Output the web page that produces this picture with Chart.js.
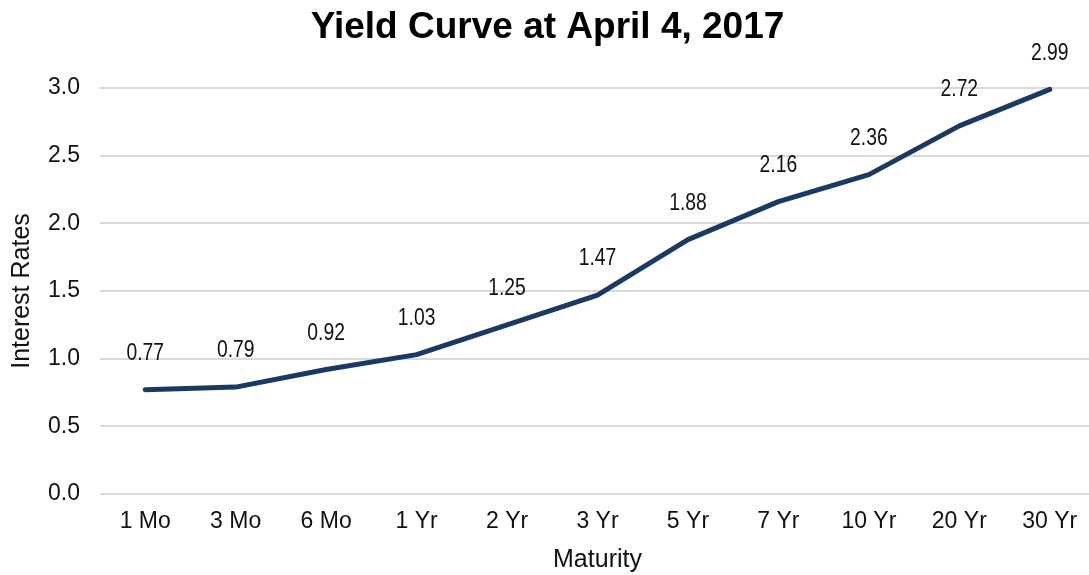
<!DOCTYPE html>
<html>
<head>
<meta charset="utf-8">
<script src="https://cdn.jsdelivr.net/npm/chart.js@4.4.1/dist/chart.umd.min.js"></script>
<style>
  html, body { margin: 0; padding: 0; background: #fff; overflow: hidden; }
  #wrap { width: 1096px; height: 575px; position: relative; }
</style>
</head>
<body>
<div id="wrap"><canvas id="c"></canvas></div>
<script>
const categories = ["1 Mo", "3 Mo", "6 Mo", "1 Yr", "2 Yr", "3 Yr", "5 Yr", "7 Yr", "10 Yr", "20 Yr", "30 Yr"];
const yields = [0.77, 0.79, 0.92, 1.03, 1.25, 1.47, 1.88, 2.16, 2.36, 2.72, 2.99];
const yTicks = [0.0, 0.5, 1.0, 1.5, 2.0, 2.5, 3.0];

const FONT = "'Liberation Sans', Arial, sans-serif";

const labelPlugin = {
  id: 'pointLabels',
  afterDatasetsDraw(chart) {
    const ctx = chart.ctx;
    const meta = chart.getDatasetMeta(0);
    meta.data.forEach((pt, i) => {
      ctx.save();
      ctx.translate(pt.x, pt.y - 36);
      ctx.scale(0.84, 1);
      ctx.font = "23px " + FONT;
      ctx.fillStyle = "#111";
      ctx.textAlign = "center";
      ctx.textBaseline = "middle";
      ctx.fillText(yields[i].toFixed(2), 0, 0);
      ctx.restore();
    });
  }
};

new Chart(document.getElementById('c'), {
  type: 'line',
  data: {
    labels: categories,
    datasets: [{
      data: yields,
      borderColor: '#1b3a62',
      borderWidth: 5,
      pointRadius: 0,
      tension: 0,
      fill: false,
      borderCapStyle: 'round',
      borderJoinStyle: 'round',
      clip: false
    }]
  },
  options: {
    responsive: true,
    maintainAspectRatio: false,
    animation: false,
    layout: { padding: { left: 0, right: 1, top: 0, bottom: 0 } },
    plugins: {
      legend: { display: false },
      tooltip: { enabled: false },
      title: {
        display: true,
        text: 'Yield Curve at April 4, 2017',
        color: '#000',
        font: { family: FONT, size: 37, weight: 'bold', lineHeight: 1.2 },
        padding: { top: 6, bottom: 37.6 }
      }
    },
    scales: {
      x: {
        offset: true,
        afterFit(scale) { scale.height = 81; scale.paddingLeft = 0; scale.paddingRight = 0; },
        grid: { display: false, drawTicks: false },
        border: { display: false },
        ticks: { color: '#111', font: { family: FONT, size: 23 }, padding: 14, maxRotation: 0, autoSkip: false },
        title: { display: true, text: 'Maturity', color: '#111', font: { family: FONT, size: 25, lineHeight: 1.2 }, padding: { top: 9, bottom: 0 } }
      },
      y: {
        min: 0,
        max: 3,
        afterBuildTicks(scale) { scale.ticks = yTicks.map(v => ({ value: v })); },
        afterFit(scale) { scale.width = 100; scale.paddingTop = 0; scale.paddingBottom = 0; },
        grid: { color: '#d9d9d9', lineWidth: 2, drawTicks: false },
        border: { display: false },
        ticks: { color: '#111', font: { family: FONT, size: 23 }, padding: 20, callback: v => Number(v).toFixed(1) },
        title: { display: true, text: 'Interest Rates', color: '#111', font: { family: FONT, size: 25, lineHeight: 1.2 }, padding: { top: 7, bottom: 10 } }
      }
    }
  },
  plugins: [labelPlugin]
});
</script>
</body>
</html>
